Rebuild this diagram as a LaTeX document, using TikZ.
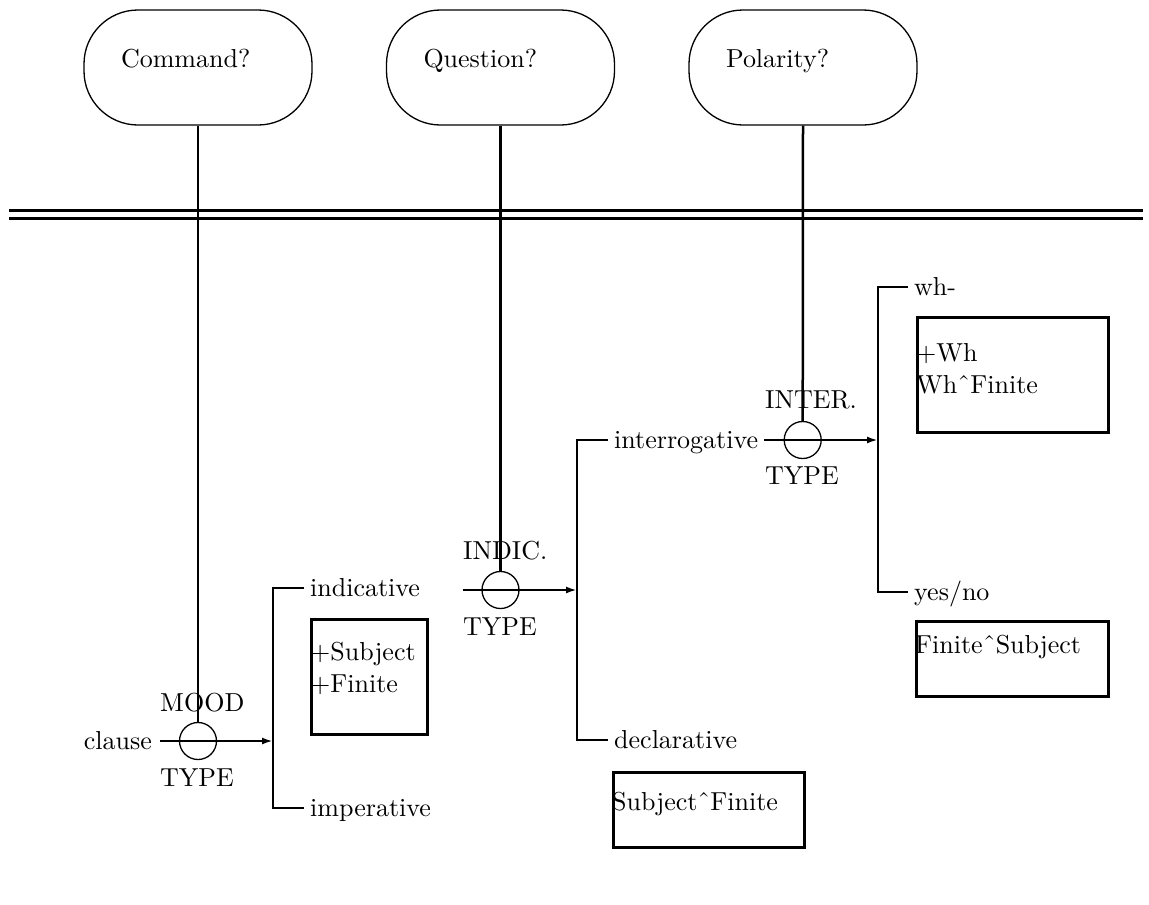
\documentclass[tikz,border=0pt]{standalone}
\usepackage{fontspec}
\setmainfont{lmroman10-regular}[Extension=.otf]
\usetikzlibrary{arrows.meta}

% modifier-letter circumflex used between constituents
\newcommand{\seqmark}{\char"02C6\relax}

\tikzset{
  query/.style={draw, line width=1.3pt, rounded corners=54pt,
    minimum width=228pt, minimum height=115pt,
    inner xsep=37pt, text width=154pt, align=left,
    text height=18pt, text depth=18pt},
  junction/.style={draw, circle, line width=1.3pt, minimum size=37pt, inner sep=0pt},
  conn/.style={line width=2.5pt},
  arr/.style={-{Latex[length=11pt,width=7pt]}},
  rule/.style={line width=2.5pt},
  feature/.style={draw, line width=3pt, inner sep=0pt, anchor=north west},
  term/.style={anchor=west, inner ysep=0pt, inner xsep=6pt, text height=20pt, text depth=4pt},
  tag/.style={anchor=base west, inner sep=0pt},
  realize/.style={anchor=north west, inner sep=0pt, align=left}
}

\begin{document}
\begin{tikzpicture}[x=1pt, y=-1pt, font=\fontsize{26}{32.5}\selectfont]
  \useasboundingbox (0,0) rectangle (1149,905);

  % questions asked of the environment
  \node[query] (cmd) at (198,67.5) {Command?};
  \node[query] (qst) at (500.5,67.5) {Question?};
  \node[query] (pol) at (803,67.5) {Polarity?};

  % double rule separating the two strata
  \coordinate (ruleAL) at (9,210.5);   \coordinate (ruleAR) at (1143,210.5);
  \coordinate (ruleBL) at (9,218.5);   \coordinate (ruleBR) at (1143,218.5);
  \draw[rule] (ruleAL) -- (ruleAR);
  \draw[rule] (ruleBL) -- (ruleBR);

  % ---- MOOD TYPE system
  \node[term, anchor=east, inner xsep=8pt] (clause) at (160,741) {clause};
  \node[junction] (mood) at (198,741) {};
  \node[tag] (moodname) at (160,711) {MOOD};
  \node[tag] (moodtype) at (160,786) {TYPE};
  \coordinate (moodend) at (273,741);
  \draw[conn] (cmd.south) -- (mood.north);
  \draw[conn, arr] (clause.east) -- (moodend);

  \node[term] (indicative) at (304,588) {indicative};
  \node[term] (imperative) at (304,808) {imperative};
  \draw[conn] (indicative.west) -| (moodend) |- (imperative.west);

  \node[feature, minimum width=116pt, minimum height=115pt] (indbox) at (310,618) {};
  \node[realize] (indtxt) at (310,641.7) {+Subject\\+Finite};

  % ---- INDICATIVE TYPE system
  \coordinate (indstart) at (463,590);
  \node[junction] (indic) at (500.5,590) {};
  \node[tag] (indicname) at (463,559) {INDIC.};
  \node[tag] (indictype) at (463,635) {TYPE};
  \coordinate (indend) at (577,590);
  \draw[conn] (qst.south) -- (indic.north);
  \draw[conn, arr] (indstart) -- (indend);

  \node[term] (interrogative) at (608,440) {interrogative};
  \node[term] (declarative) at (608,740) {declarative};
  \draw[conn] (interrogative.west) -| (indend) |- (declarative.west);

  \node[feature, minimum width=191pt, minimum height=75pt] (decbox) at (612,771) {};
  \node[tag] (dectxt) at (612,810) {Subject\seqmark Finite};

  % ---- INTERROGATIVE TYPE system
  \node[junction] (inter) at (802.7,440) {};
  \node[tag] (intername) at (765,408) {INTER.};
  \node[tag] (intertype) at (765,484) {TYPE};
  \coordinate (interend) at (878,440);
  \draw[conn] (pol.south) -- (inter.north);
  \draw[conn, arr] (interrogative.east) -- (interend);

  \node[term] (wh) at (908,287) {wh-};
  \node[term] (yesno) at (908,592) {yes/no};
  \draw[conn] (wh.west) -| (interend) |- (yesno.west);

  \node[feature, minimum width=191pt, minimum height=115pt] (whbox) at (916,316) {};
  \node[realize] (whtxt) at (916,343) {+Wh\\Wh\seqmark Finite};

  \node[feature, minimum width=192pt, minimum height=75pt] (ynbox) at (915,620) {};
  \node[tag] (yntxt) at (915,653) {Finite\seqmark Subject};
\end{tikzpicture}
\end{document}
